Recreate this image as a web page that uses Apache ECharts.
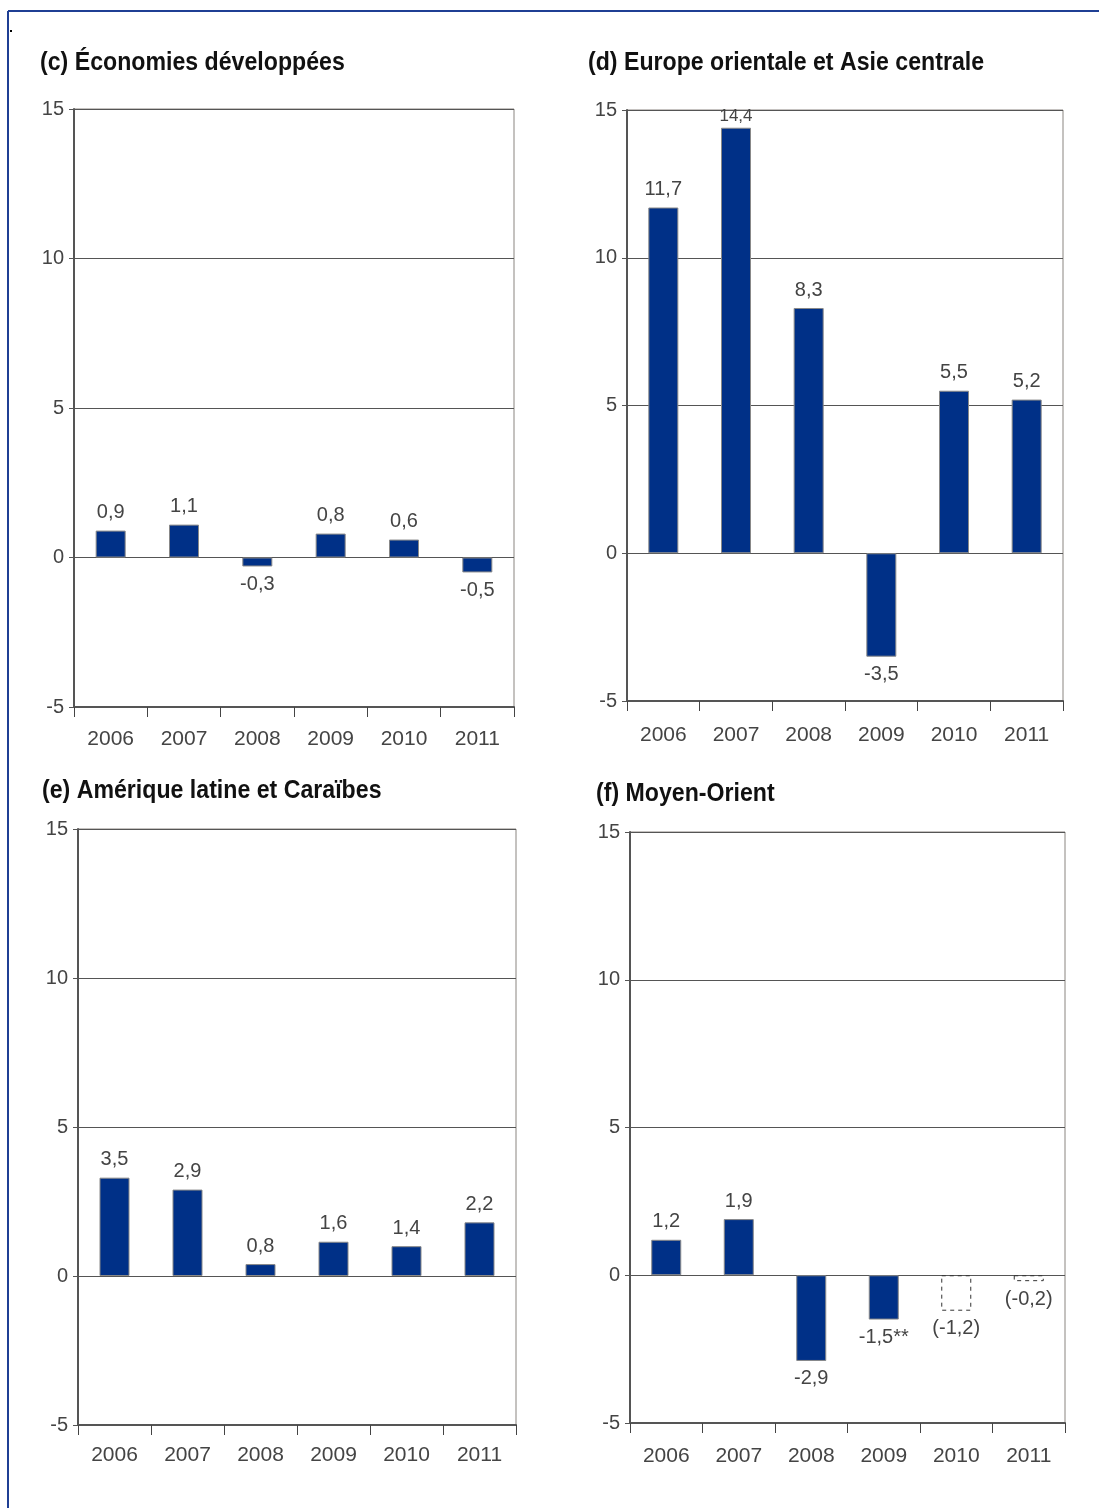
<!DOCTYPE html>
<html>
<head>
<meta charset="utf-8">
<script src="https://cdn.jsdelivr.net/npm/echarts@6/dist/echarts.min.js"></script>
<style>
  html, body { margin: 0; padding: 0; background: #fff; }
  #chart { width: 1099px; height: 1508px; }
</style>
</head>
<body>
<div id="chart"></div>
<script>
var years = ['2006', '2007', '2008', '2009', '2010', '2011'];
var yTicks = [-5, 0, 5, 10, 15];

// (c) Économies développées
var valsC = [0.9, 1.1, -0.3, 0.8, 0.6, -0.5];
var labsC = ['0,9', '1,1', '-0,3', '0,8', '0,6', '-0,5'];
// (d) Europe orientale et Asie centrale
var valsD = [11.7, 14.4, 8.3, -3.5, 5.5, 5.2];
var labsD = ['11,7', '14,4', '8,3', '-3,5', '5,5', '5,2'];
// (e) Amérique latine et Caraïbes (bars as drawn)
var valsE = [3.3, 2.9, 0.4, 1.15, 1.0, 1.8];
var labsE = ['3,5', '2,9', '0,8', '1,6', '1,4', '2,2'];
// (f) Moyen-Orient, last two are estimates (dashed)
var valsF = [1.2, 1.9, -2.9, -1.5, -1.2, -0.2];
var labsF = ['1,2', '1,9', '-2,9', '-1,5**', '(-1,2)', '(-0,2)'];
var dashedF = [false, false, false, false, true, true];

var titles = [
	'(c) Économies développées',
	'(d) Europe orientale et Asie centrale',
	'(e) Amérique latine et Caraïbes',
	'(f) Moyen-Orient'
];

var barColor = '#003087';
var labelFont = '"Liberation Sans", Arial, sans-serif';
var titleFont = '"Liberation Sans", Arial, sans-serif';

var panels = [
	{ grid: { left: 74, top: 109, width: 440, height: 598 }, title: [40, 63], vals: valsC, labs: labsC, xmargin: 22 },
	{ grid: { left: 627, top: 110, width: 436, height: 591 }, title: [588, 63], vals: valsD, labs: labsD, xmargin: 24 },
	{ grid: { left: 78, top: 829, width: 438, height: 596 }, title: [42, 791], vals: valsE, labs: labsE, xmargin: 20 },
	{ grid: { left: 630, top: 832, width: 435, height: 591 }, title: [596, 794], vals: valsF, labs: labsF, xmargin: 23, dashed: dashedF }
];

var option = {
	animation: false,
	backgroundColor: '#fff',
	grid: [],
	xAxis: [],
	yAxis: [],
	series: [],
	graphic: [
		{ type: 'line', shape: { x1: 8, y1: 11, x2: 1099, y2: 11 }, style: { stroke: '#1f3f94', lineWidth: 2 } },
		{ type: 'line', shape: { x1: 8, y1: 11, x2: 8, y2: 1508 }, style: { stroke: '#1f3f94', lineWidth: 2 } },
		{ type: 'rect', shape: { x: 10, y: 30, width: 2, height: 2 }, style: { fill: '#000' } }
	]
};

panels.forEach(function(p, i) {
	option.grid.push({
		left: p.grid.left, top: p.grid.top, width: p.grid.width, height: p.grid.height,
		show: true, borderColor: '#8a8580', borderWidth: 1
	});
	option.xAxis.push({
		type: 'category', gridIndex: i, data: years, position: 'bottom',
		axisLine: { onZero: false, lineStyle: { color: '#555', width: 2 } },
		axisTick: { show: true, length: 10, lineStyle: { color: '#444' } },
		axisLabel: { margin: p.xmargin, color: '#444', fontSize: 21, fontFamily: labelFont }
	});
	option.yAxis.push({
		type: 'value', gridIndex: i, min: yTicks[0], max: yTicks[yTicks.length - 1], interval: 5,
		axisLine: { show: true, lineStyle: { color: '#555', width: 2 } },
		axisTick: { show: true, length: 5, lineStyle: { color: '#555' } },
		axisLabel: { margin: 10, color: '#444', fontSize: 20, fontFamily: labelFont },
		splitLine: { show: true, lineStyle: { color: '#555', width: 1 } }
	});
	var data = p.vals.map(function(v, k) {
		var item = { value: v, label: { position: v < 0 ? 'bottom' : 'top' } };
		if (v > 14) {
			item.label.fontSize = 17;
			item.label.distance = 3;
		}
		if (p.dashed && p.dashed[k]) {
			item.itemStyle = { color: 'rgba(255,255,255,0)', borderColor: '#333', borderType: [4, 4], borderWidth: 1 };
		}
		return item;
	});
	option.series.push({
		type: 'bar', xAxisIndex: i, yAxisIndex: i, barWidth: 30, data: data,
		itemStyle: { color: barColor, borderColor: '#888', borderWidth: 1 },
		label: {
			show: true, distance: 8, color: '#444', fontSize: 20, fontFamily: labelFont,
			formatter: function(pr) { return p.labs[pr.dataIndex]; }
		}
	});
	option.graphic.push({
		type: 'text', x: p.title[0], y: p.title[1], scaleX: 0.89,
		style: { text: titles[i], fill: '#111', fontSize: 26, fontWeight: 'bold', fontFamily: titleFont, verticalAlign: 'middle' }
	});
});

var myChart = echarts.init(document.getElementById('chart'), null, { renderer: 'canvas' });
myChart.setOption(option);
</script>
</body>
</html>
